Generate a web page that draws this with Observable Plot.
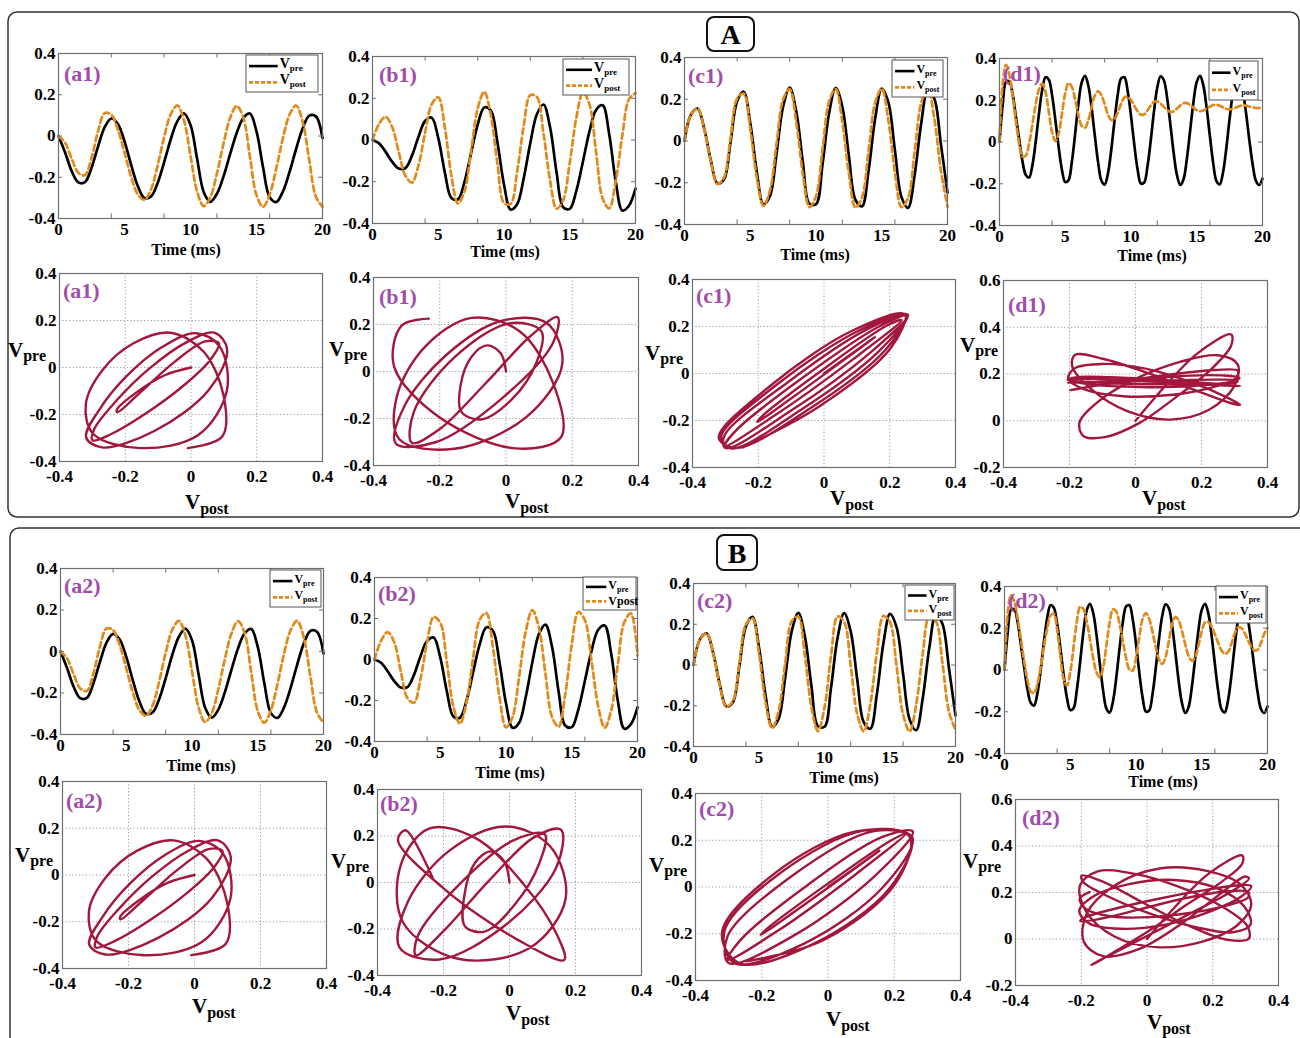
<!DOCTYPE html>
<html>
<head>
<meta charset="utf-8">
<script src="https://cdn.jsdelivr.net/npm/d3@7"></script>
<script src="https://cdn.jsdelivr.net/npm/@observablehq/plot@0.6"></script>
<style>
  body { margin: 0; background: #fff; }
  #root { position: relative; width: 1300px; height: 1038px; overflow: hidden; background: #fff; font-family: "Liberation Serif", serif; }
</style>
</head>
<body>
<div id="root"></div>
<script>
// ---------------- DATA ----------------
const timeAB = d3.range(0, 20.0001, 0.5);   // sample times (ms), panels a, b, c
const timeD  = d3.range(0, 20.0001, 0.25);  // sample times (ms), panels d

const vpreA = [0, -0.080, -0.170, -0.225, -0.224, -0.154, -0.050, 0.043, 0.085, 0.058, -0.026, -0.139, -0.241, -0.300, -0.294, -0.230, -0.128, -0.017, 0.071, 0.110, 0.054, -0.110, -0.271, -0.319, -0.280, -0.196, -0.088, 0.015, 0.087, 0.109, 0.022, -0.153, -0.297, -0.320, -0.269, -0.175, -0.063, 0.038, 0.099, 0.095, -0.010];
const vpostA = [0, -0.033, -0.110, -0.178, -0.190, -0.106, 0.024, 0.111, 0.103, 0.031, -0.081, -0.197, -0.282, -0.310, -0.261, -0.146, -0.006, 0.105, 0.148, 0.077, -0.096, -0.269, -0.340, -0.297, -0.182, -0.037, 0.087, 0.146, 0.090, -0.099, -0.287, -0.343, -0.283, -0.157, -0.011, 0.103, 0.148, 0.068, -0.119, -0.294, -0.343];

const vpreB = [0, -0.016, -0.057, -0.105, -0.137, -0.135, -0.075, 0.016, 0.091, 0.107, 0.010, -0.155, -0.278, -0.284, -0.200, -0.062, 0.074, 0.156, 0.141, -0.012, -0.213, -0.333, -0.308, -0.183, -0.015, 0.123, 0.170, 0.062, -0.156, -0.322, -0.330, -0.244, -0.104, 0.041, 0.144, 0.166, 0.028, -0.200, -0.338, -0.315, -0.233];
const vpostB1 = [0, 0.078, 0.111, 0.061, -0.058, -0.171, -0.204, -0.121, 0.035, 0.171, 0.205, 0.061, -0.171, -0.304, -0.245, -0.051, 0.151, 0.231, 0.119, -0.114, -0.301, -0.306, -0.151, 0.067, 0.215, 0.206, 0.033, -0.193, -0.329, -0.288, -0.109, 0.106, 0.228, 0.171, -0.056, -0.280, -0.327, -0.196, 0.022, 0.195, 0.225];
const vpostB2 = [0, 0.091, 0.134, 0.084, -0.058, -0.188, -0.211, -0.095, 0.085, 0.208, 0.180, -0.012, -0.230, -0.313, -0.209, 0.008, 0.194, 0.227, 0.062, -0.183, -0.331, -0.280, -0.083, 0.136, 0.241, 0.156, -0.070, -0.281, -0.328, -0.173, 0.073, 0.232, 0.192, -0.004, -0.225, -0.333, -0.249, -0.025, 0.183, 0.225, 0.020];

const vpreC = [0, 0.127, 0.155, 0.060, -0.093, -0.203, -0.184, -0.006, 0.190, 0.236, 0.086, -0.148, -0.303, -0.263, -0.060, 0.166, 0.256, 0.141, -0.101, -0.300, -0.303, -0.110, 0.135, 0.255, 0.165, -0.072, -0.282, -0.313, -0.142, 0.108, 0.251, 0.186, -0.044, -0.268, -0.320, -0.163, 0.084, 0.246, 0.202, -0.016, -0.247];
const vpostC1 = [0, 0.127, 0.155, 0.057, -0.099, -0.206, -0.176, 0.014, 0.203, 0.227, 0.058, -0.177, -0.310, -0.236, -0.013, 0.199, 0.248, 0.089, -0.159, -0.317, -0.264, -0.037, 0.191, 0.250, 0.092, -0.156, -0.319, -0.270, -0.046, 0.184, 0.251, 0.099, -0.150, -0.317, -0.273, -0.052, 0.181, 0.252, 0.106, -0.142, -0.315];
const vpostC2 = [0, 0.127, 0.155, 0.058, -0.097, -0.205, -0.178, 0.009, 0.199, 0.229, 0.057, -0.184, -0.311, -0.225, 0.010, 0.216, 0.237, 0.047, -0.206, -0.325, -0.210, 0.046, 0.238, 0.212, -0.002, -0.242, -0.326, -0.191, 0.062, 0.241, 0.210, -0.005, -0.243, -0.326, -0.194, 0.056, 0.238, 0.216, 0.011, -0.229, -0.318];

const vpreD = [0, 0.183, 0.290, 0.290, 0.229, 0.120, 0.011, -0.093, -0.158, -0.170, -0.112, 0.000, 0.135, 0.250, 0.310, 0.298, 0.223, 0.105, -0.025, -0.134, -0.192, -0.183, -0.096, 0.038, 0.182, 0.285, 0.317, 0.272, 0.166, 0.030, -0.099, -0.185, -0.204, -0.150, -0.037, 0.104, 0.230, 0.305, 0.310, 0.243, 0.125, -0.013, -0.131, -0.199, -0.194, -0.118, 0.007, 0.148, 0.261, 0.315, 0.296, 0.210, 0.081, -0.055, -0.160, -0.206, -0.177, -0.080, 0.056, 0.191, 0.288, 0.317, 0.271, 0.165, 0.028, -0.101, -0.187, -0.203, -0.145, -0.029, 0.112, 0.237, 0.308, 0.308, 0.245, 0.138, 0.009, -0.107, -0.186, -0.205, -0.175];
const vpostD1 = [0, 0.283, 0.369, 0.322, 0.220, 0.098, -0.010, -0.070, -0.065, -0.008, 0.083, 0.179, 0.252, 0.280, 0.240, 0.145, 0.047, 0.005, 0.041, 0.135, 0.234, 0.282, 0.264, 0.204, 0.130, 0.077, 0.068, 0.103, 0.166, 0.223, 0.243, 0.224, 0.180, 0.132, 0.105, 0.110, 0.142, 0.184, 0.214, 0.217, 0.201, 0.174, 0.147, 0.131, 0.132, 0.150, 0.175, 0.192, 0.194, 0.184, 0.168, 0.153, 0.144, 0.147, 0.160, 0.175, 0.186, 0.186, 0.177, 0.164, 0.152, 0.148, 0.151, 0.160, 0.169, 0.177, 0.179, 0.174, 0.166, 0.158, 0.156, 0.159, 0.166, 0.172, 0.176, 0.174, 0.170, 0.166, 0.163, 0.163, 0.165];
const vpostD2 = [0, 0.276, 0.359, 0.325, 0.248, 0.147, 0.040, -0.050, -0.104, -0.111, -0.068, 0.013, 0.112, 0.199, 0.260, 0.269, 0.194, 0.066, -0.044, -0.074, -0.012, 0.110, 0.232, 0.303, 0.293, 0.234, 0.147, 0.056, -0.012, -0.035, 0.011, 0.118, 0.229, 0.291, 0.280, 0.221, 0.138, 0.056, 0.002, -0.003, 0.058, 0.157, 0.245, 0.273, 0.245, 0.183, 0.110, 0.051, 0.029, 0.062, 0.140, 0.220, 0.254, 0.236, 0.186, 0.122, 0.068, 0.044, 0.062, 0.118, 0.184, 0.228, 0.230, 0.208, 0.171, 0.129, 0.094, 0.077, 0.086, 0.125, 0.174, 0.204, 0.202, 0.179, 0.145, 0.114, 0.094, 0.097, 0.129, 0.173, 0.202];

const timeTickLabels = [0, 5, 10, 15, 20];
const timeTickMarks = [4, 8, 12, 16];
const voltTicks = [-0.4, -0.2, 0, 0.2, 0.4];
const voltTicksInner = [-0.2, 0, 0.2];
const voltTicksD = [-0.2, 0, 0.2, 0.4, 0.6];
const voltTicksDInner = [0, 0.2, 0.4];

// ---------------- LAYOUT ----------------
const FONT = "Liberation Serif, serif";
const ORANGE = "#e08a1c";
const MAROON = "#a2183d";
const PURPLE = "#a24ba9";
const FRAME = "#6e6e6e";
const fmt = d => String(Math.round(d * 10) / 10);

const timePanels = [
  {tag: "(a1)", time: timeAB, pre: vpreA, post: vpostA,  fx: 58,   fy: 53,  fw: 264, fh: 165, tx: 64,   ty: 81,  lx: 186,  ly: 255, leg: [246, 55, 72, 37]},
  {tag: "(b1)", time: timeAB, pre: vpreB, post: vpostB1, fx: 372,  fy: 56,  fw: 263, fh: 167, tx: 379,  ty: 82,  lx: 505,  ly: 257, leg: [563, 59, 66, 36]},
  {tag: "(c1)", time: timeAB, pre: vpreC, post: vpostC1, fx: 684,  fy: 57,  fw: 263, fh: 167, tx: 688,  ty: 83,  lx: 815,  ly: 260, leg: [892, 60, 51, 37]},
  {tag: "(d1)", time: timeD,  pre: vpreD, post: vpostD1, fx: 999,  fy: 58,  fw: 263, fh: 167, tx: 1003, ty: 81,  lx: 1152, ly: 261, leg: [1209, 61, 49, 39]},
  {tag: "(a2)", time: timeAB, pre: vpreA, post: vpostA,  fx: 60,   fy: 568, fw: 263, fh: 166, tx: 64,   ty: 593, lx: 201,  ly: 771, leg: [270, 570, 51, 37]},
  {tag: "(b2)", time: timeAB, pre: vpreB, post: vpostB2, fx: 374,  fy: 577, fw: 263, fh: 164, tx: 378,  ty: 601, lx: 510,  ly: 778, leg: [583, 577, 53, 33], plainPost: true},
  {tag: "(c2)", time: timeAB, pre: vpreC, post: vpostC2, fx: 693,  fy: 583, fw: 262, fh: 163, tx: 697,  ty: 608, lx: 844,  ly: 783, leg: [905, 585, 49, 35]},
  {tag: "(d2)", time: timeD,  pre: vpreD, post: vpostD2, fx: 1004, fy: 586, fw: 263, fh: 167, tx: 1008, ty: 608, lx: 1163, ly: 787, leg: [1216, 586, 50, 37]}
];

const phasePanels = [
  {tag: "(a1)", time: timeAB, pre: vpreA, post: vpostA,  fx: 59,   fy: 273, fw: 263, fh: 188, tx: 63,   ty: 298, vp: [8, 357],   vq: [185, 509]},
  {tag: "(b1)", time: timeAB, pre: vpreB, post: vpostB1, fx: 373,  fy: 277, fw: 265, fh: 188, tx: 379,  ty: 304, vp: [329, 356], vq: [505, 508]},
  {tag: "(c1)", time: timeAB, pre: vpreC, post: vpostC1, fx: 692,  fy: 279, fw: 263, fh: 188, tx: 696,  ty: 303, vp: [645, 360], vq: [830, 505]},
  {tag: "(d1)", time: timeD,  pre: vpreD, post: vpostD1, fx: 1003, fy: 280, fw: 264, fh: 187, tx: 1008, ty: 312, vp: [960, 352], vq: [1142, 505], d: true},
  {tag: "(a2)", time: timeAB, pre: vpreA, post: vpostA,  fx: 62,   fy: 781, fw: 264, fh: 187, tx: 66,   ty: 808, vp: [15, 862],  vq: [192, 1013]},
  {tag: "(b2)", time: timeAB, pre: vpreB, post: vpostB2, fx: 377,  fy: 789, fw: 264, fh: 186, tx: 380,  ty: 811, vp: [331, 868], vq: [506, 1020]},
  {tag: "(c2)", time: timeAB, pre: vpreC, post: vpostC2, fx: 695,  fy: 793, fw: 265, fh: 187, tx: 699,  ty: 816, vp: [649, 872], vq: [826, 1026]},
  {tag: "(d2)", time: timeD,  pre: vpreD, post: vpostD2, fx: 1015, fy: 799, fw: 263, fh: 186, tx: 1022, ty: 825, vp: [963, 868], vq: [1147, 1029], d: true}
];

const root = document.getElementById("root");
const M = {l: 46, r: 14, t: 10, b: 30};

function place(svg, left, top) {
  const div = document.createElement("div");
  div.style.cssText = `position:absolute;left:${left}px;top:${top}px;`;
  div.appendChild(svg);
  root.appendChild(div);
}
function plotStyle() {
  return {fontFamily: FONT, fontSize: "17px", fontWeight: "bold", color: "#000", background: "transparent", overflow: "visible"};
}

// ---------------- TIME-SERIES PANELS ----------------
timePanels.forEach(p => {
  const rows = p.time.map((t, i) => ({t, pre: p.pre[i], post: p.post[i]}));
  const svg = Plot.plot({
    width: p.fw + M.l + M.r, height: p.fh + M.t + M.b,
    marginLeft: M.l, marginRight: M.r, marginTop: M.t, marginBottom: M.b,
    style: plotStyle(),
    x: {domain: [0, 20]},
    y: {domain: [-0.4, 0.4]},
    marks: [
      Plot.line(rows, {x: "t", y: "pre", stroke: "#000", strokeWidth: 2.7, curve: "catmull-rom"}),
      Plot.line(rows, {x: "t", y: "post", stroke: ORANGE, strokeWidth: 2.7, strokeDasharray: "6,3.5", curve: "catmull-rom"}),
      Plot.ruleX(timeTickMarks, {x: d => d, y1: -0.4, y2: -0.378, stroke: FRAME}),
      Plot.ruleX(timeTickMarks, {x: d => d, y1: 0.4, y2: 0.378, stroke: FRAME}),
      Plot.ruleY(voltTicksInner, {y: d => d, x1: 0, x2: 0.3, stroke: FRAME}),
      Plot.ruleY(voltTicksInner, {y: d => d, x1: 20, x2: 19.7, stroke: FRAME}),
      Plot.frame({stroke: FRAME, strokeWidth: 1.2}),
      Plot.axisX({ticks: timeTickLabels, tickSize: 0, tickPadding: 4, tickFormat: d => String(d), label: null}),
      Plot.axisY({ticks: voltTicks, tickSize: 0, tickPadding: 3, tickFormat: fmt, label: null})
    ]
  });
  place(svg, p.fx - M.l, p.fy - M.t);
});

// ---------------- PHASE PORTRAITS ----------------
phasePanels.forEach(p => {
  const rows = p.time.map((t, i) => ({pre: p.pre[i], post: p.post[i]}));
  const yT = p.d ? voltTicksD : voltTicks;
  const yTin = p.d ? voltTicksDInner : voltTicksInner;
  const svg = Plot.plot({
    width: p.fw + M.l + M.r, height: p.fh + M.t + M.b,
    marginLeft: M.l, marginRight: M.r, marginTop: M.t, marginBottom: M.b,
    style: plotStyle(),
    x: {domain: [-0.4, 0.4]},
    y: {domain: [yT[0], yT[yT.length - 1]]},
    marks: [
      Plot.gridX({ticks: voltTicksInner, stroke: "#9a9a9a", strokeOpacity: 1, strokeDasharray: "1.2,2.2"}),
      Plot.gridY({ticks: yTin, stroke: "#9a9a9a", strokeOpacity: 1, strokeDasharray: "1.2,2.2"}),
      Plot.line(rows, {x: "pre", y: "post", stroke: MAROON, strokeWidth: 2.4, curve: "catmull-rom"}),
      Plot.frame({stroke: FRAME, strokeWidth: 1.2}),
      Plot.axisX({ticks: voltTicks, tickSize: 0, tickPadding: 8, tickFormat: fmt, label: null}),
      Plot.axisY({ticks: yT, tickSize: 0, tickPadding: 3, tickFormat: fmt, label: null})
    ]
  });
  place(svg, p.fx - M.l, p.fy - M.t);
});

// ---------------- OVERLAY: boxes, titles, labels, legends ----------------
const ov = d3.create("svg")
  .attr("width", 1300).attr("height", 1038)
  .style("position", "absolute").style("left", "0px").style("top", "0px")
  .style("pointer-events", "none")
  .attr("font-family", FONT).attr("font-weight", "bold");

ov.append("rect").attr("x", 8).attr("y", 12).attr("width", 1291).attr("height", 505).attr("rx", 9)
  .attr("fill", "none").attr("stroke", "#333").attr("stroke-width", 1.5);
ov.append("rect").attr("x", 10).attr("y", 528).attr("width", 1300).attr("height", 540).attr("rx", 9)
  .attr("fill", "none").attr("stroke", "#333").attr("stroke-width", 1.5);

[["A", 707, 17, 47, 34], ["B", 717, 535, 40, 35]].forEach(([s, x, y, w, h]) => {
  ov.append("rect").attr("x", x).attr("y", y).attr("width", w).attr("height", h).attr("rx", 7)
    .attr("fill", "#fff").attr("stroke", "#111").attr("stroke-width", 2);
  ov.append("text").attr("x", x + w / 2).attr("y", y + h / 2 + 10).attr("text-anchor", "middle")
    .attr("font-size", 28).attr("fill", "#000").text(s);
});

function vText(g, x, y, sub, big, small, dy) {
  const t = g.append("text").attr("x", x).attr("y", y).attr("font-size", big).attr("fill", "#000");
  t.append("tspan").text("V");
  t.append("tspan").attr("font-size", small).attr("dy", dy).text(sub);
}

timePanels.forEach(p => {
  ov.append("text").attr("x", p.tx).attr("y", p.ty).attr("font-size", 22).attr("fill", PURPLE).text(p.tag);
  ov.append("text").attr("x", p.lx).attr("y", p.ly).attr("text-anchor", "middle").attr("font-size", 16).attr("fill", "#000").text("Time (ms)");
  const [l, t, w, h] = p.leg;
  ov.append("rect").attr("x", l).attr("y", t).attr("width", w).attr("height", h)
    .attr("fill", "#fff").attr("stroke", "#555").attr("stroke-width", 1);
  const big = w > 60 ? 14 : 12, small = w > 60 ? 9 : 8;
  const lineEnd = l + w * 0.44;
  const y1 = t + h * 0.3, y2 = t + h * 0.74;
  ov.append("line").attr("x1", l + 3).attr("x2", lineEnd).attr("y1", y1).attr("y2", y1)
    .attr("stroke", "#000").attr("stroke-width", 2.6);
  ov.append("line").attr("x1", l + 3).attr("x2", lineEnd).attr("y1", y2).attr("y2", y2)
    .attr("stroke", ORANGE).attr("stroke-width", 2.6).attr("stroke-dasharray", "4,2");
  vText(ov, lineEnd + 2, y1 + 2, "pre", big, small, 3);
  if (p.plainPost) {
    ov.append("text").attr("x", lineEnd + 2).attr("y", y2 + 4).attr("font-size", 12).attr("fill", "#000").text("Vpost");
  } else {
    vText(ov, lineEnd + 2, y2 + 2, "post", big, small, 3);
  }
});

phasePanels.forEach(p => {
  ov.append("text").attr("x", p.tx).attr("y", p.ty).attr("font-size", 22).attr("fill", PURPLE).text(p.tag);
  vText(ov, p.vp[0], p.vp[1], "pre", 21, 16, 4);
  vText(ov, p.vq[0], p.vq[1], "post", 21, 16, 5);
});

root.appendChild(ov.node());
</script>
</body>
</html>
